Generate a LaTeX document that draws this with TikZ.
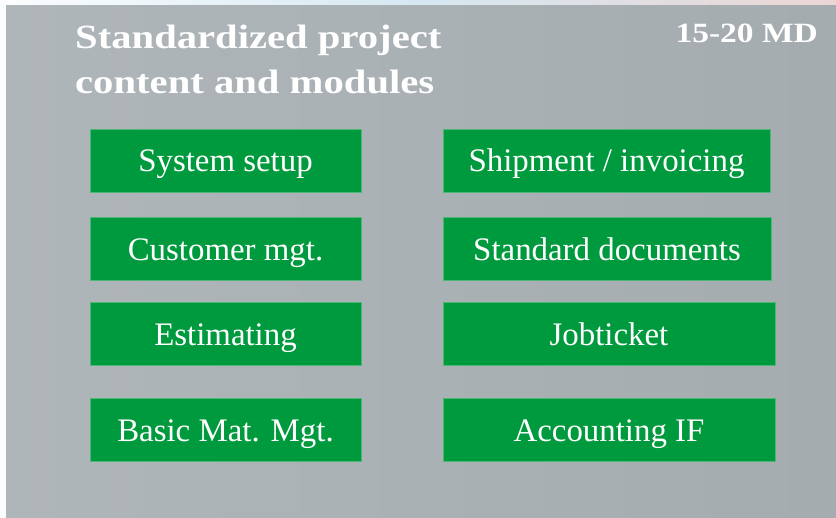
\documentclass[tikz,border=0pt]{standalone}
\usepackage{fontspec}
\setmainfont{Liberation Serif}
\newfontfamily\headfont[FakeStretch=1.2]{Liberation Serif}
\usetikzlibrary{positioning}

\definecolor{panelgray}{RGB}{170,177,181}
\definecolor{modgreen}{RGB}{0,154,62}
\definecolor{stripblue}{RGB}{214,232,242}
\definecolor{strippink}{RGB}{236,214,212}

\begin{document}
\begin{tikzpicture}[
        x=1bp,
        y=-1bp,
        module/.style={fill=modgreen,draw=modgreen!70!white,line width=0.6bp,
            text=white,inner sep=0pt,minimum height=63bp,
            text height=23bp,text depth=0bp,
            font=\fontsize{33}{38}\selectfont},
        left module/.style={module,minimum width=271bp},
        right module/.style={module,minimum width=#1}
    ]
        % Backdrop: light strips at top and left, grey panel over the rest.
        \useasboundingbox (0,0) rectangle (836,518);
        \fill[left color=white!92!stripblue,right color=strippink,
            middle color=stripblue] (0,0) rectangle (836,7);
        \fill[white!88!stripblue] (0,0) rectangle (6,518);
        \fill[left color=panelgray!94!white,right color=panelgray!97!black,
            middle color=panelgray] (6,6) rectangle (836,518);

        % Heading and effort estimate.
        \node[anchor=north west,inner sep=0pt,align=left,text=white,
            font=\headfont\bfseries\fontsize{34}{45}\selectfont]
            (title) at (75,25) {Standardized project\\content and modules};
        \node[anchor=base east,inner sep=0pt,text=white,
            font=\headfont\bfseries\fontsize{28}{32}\selectfont]
            (effort) at (818,43) {15-20 MD};

        % Left column of modules.
        \node[left module] (setup) at (225.5,160.5) {System setup};
        \node[left module] (customer) at (225.5,249) {Customer mgt.};
        \node[left module] (estimating) at (225.5,333.5) {Estimating};
        \node[left module] (material) at (225.5,429.5) {Basic Mat. Mgt.};

        % Right column of modules.
        \node[right module=327bp] (shipment) at (606.5,160.5) {Shipment / invoicing};
        \node[right module=328bp] (documents) at (607,249) {Standard documents};
        \node[right module=332bp] (jobticket) at (609,333.5) {Jobticket};
        \node[right module=332bp] (accounting) at (609,429.5) {Accounting IF};
    \end{tikzpicture}
\end{document}
